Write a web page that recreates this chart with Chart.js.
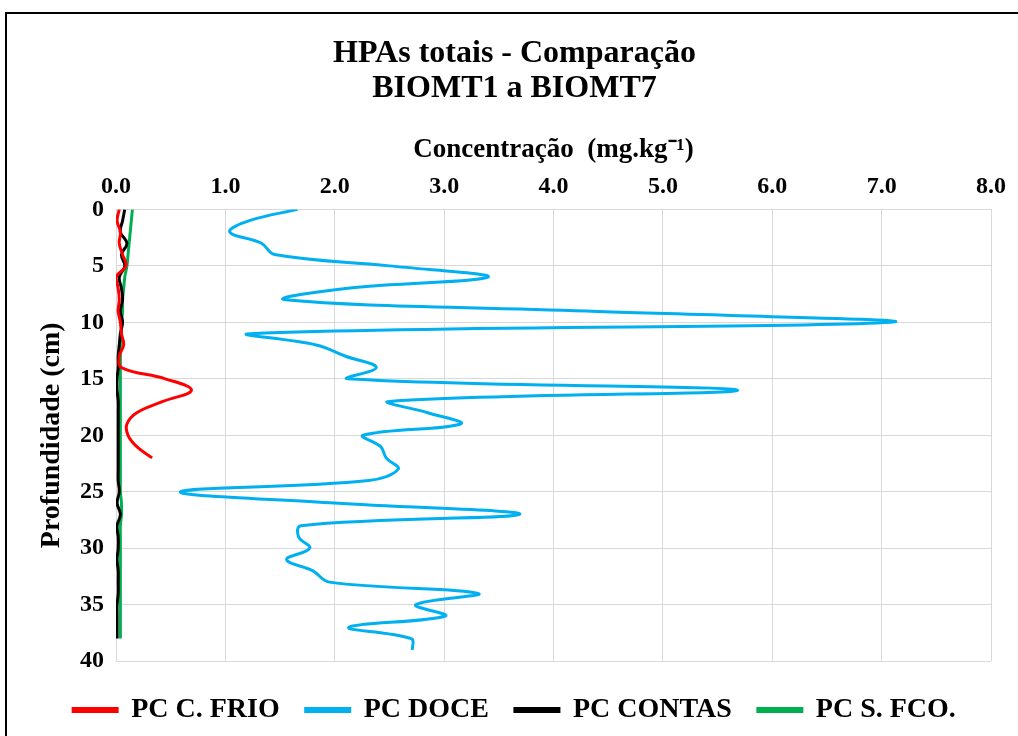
<!DOCTYPE html>
<html lang="pt">
<head>
  <meta charset="UTF-8">
  <title>HPAs totais - Comparação</title>
  <script src="https://cdn.jsdelivr.net/npm/chart.js"></script>
  <style>
    html, body { margin: 0; padding: 0; background: white; }
    #frame { position: absolute; left: 5px; top: 12px; width: 1100px; height: 800px; border: 2px solid black; }
    #wrap { position: absolute; left: 0; top: 0; width: 1018px; height: 736px; }
  </style>
</head>
<body>
<div id="frame"></div>
<div id="wrap"><canvas id="chart" width="1018" height="736"></canvas></div>

<script>
  // profundidade (cm) e concentração (mg/kg)
  const depthDoce = [0,1,2,3,4,5,6,7,8,9,10,11,12,13,14,15,16,17,18,19,20,21,22,23,24,25,26,27,28,29,30,31,32,33,34,35,36,37,38,39];
  const doce = [1.66,1.22,1.04,1.33,1.45,2.50,3.40,2.10,1.55,4.30,7.08,1.23,1.83,2.10,2.38,2.12,5.68,2.50,2.85,3.15,2.26,2.42,2.47,2.58,2.31,0.59,2.00,3.69,1.69,1.67,1.77,1.56,1.80,1.95,3.31,2.74,3.01,2.13,2.70,2.71];

  const depthFrio = [0,1,2,3,4,5,6,7,8,9,10,11,12,13,14,15,16,17,18,19,20,21,22];
  const frio = [0.03,0.01,0.04,0.03,0.06,0.09,0.00,0.02,0.03,0.02,0.04,0.05,0.07,0.03,0.05,0.45,0.69,0.43,0.19,0.10,0.11,0.19,0.33];

  const depthContas = [0,1,2,3,4,5,6,7,8,9,10,11,12,13,14,15,16,17,18,19,20,21,22,23,24,25,26,27,28,29,30,31,32,33,34,35,36,37,38];
  const contas = [0.08,0.06,0.04,0.10,0.05,0.08,0.03,0.05,0.06,0.04,0.06,0.04,0.03,0.02,0.02,0.01,0.01,0.02,0.02,0.02,0.02,0.02,0.02,0.02,0.02,0.03,0.01,0.04,0.01,0.02,0.02,0.01,0.02,0.02,0.02,0.01,0.01,0.01,0.01];

  const depthSfco = [0,1,2,3,4,5,6,7,8,9,10,11,12,13,14,15,16,17,18,19,20,21,22,23,24,25,26,27,28,29,30,31,32,33,34,35,36,37,38];
  const sfco = [0.15,0.14,0.13,0.12,0.11,0.10,0.08,0.07,0.06,0.06,0.05,0.05,0.04,0.04,0.04,0.04,0.04,0.04,0.04,0.04,0.04,0.04,0.04,0.04,0.04,0.04,0.05,0.05,0.04,0.04,0.04,0.04,0.04,0.04,0.04,0.04,0.04,0.04,0.04];

  const xTicks = [0,1,2,3,4,5,6,7,8];
  const yTicks = [0,5,10,15,20,25,30,35,40];

  function pts(depths, vals) {
    return vals.map((v, i) => ({ x: v, y: depths[i] }));
  }

  function serie(label, color, depths, vals) {
    return {
      label: label,
      data: pts(depths, vals),
      borderColor: color,
      backgroundColor: color,
      borderWidth: 3,
      showLine: true,
      pointRadius: 0,
      tension: 0.4
    };
  }

  const serif = "'Liberation Serif', 'Times New Roman', serif";
  const grid = "#d9d9d9";

  new Chart(document.getElementById("chart"), {
    type: "scatter",
    data: {
      datasets: [
        serie("PC C. FRIO", "#ff0000", depthFrio, frio),
        serie("PC DOCE", "#00b0f0", depthDoce, doce),
        serie("PC CONTAS", "#000000", depthContas, contas),
        serie("PC S. FCO.", "#00b050", depthSfco, sfco)
      ]
    },
    options: {
      responsive: false,
      animation: false,
      layout: { padding: { left: 38, right: 27, top: 36, bottom: 2 } },
      plugins: {
        tooltip: { enabled: false },
        title: {
          display: true,
          text: ["HPAs totais - Comparação", "BIOMT1 a BIOMT7"],
          color: "#000",
          font: { family: serif, size: 32, weight: "bold", lineHeight: 1.1 },
          padding: { top: 0, bottom: 30 }
        },
        legend: {
          position: "bottom",
          // titulo vazio so para afastar a legenda do grafico
          title: { display: true, text: "", font: { size: 4 }, padding: { top: 4, bottom: 0 } },
          labels: {
            color: "#000",
            font: { family: serif, size: 28, weight: "bold" },
            boxWidth: 44,
            boxHeight: 3,
            padding: 26
          }
        }
      },
      scales: {
        x: {
          type: "linear",
          position: "top",
          min: 0,
          max: 8,
          afterBuildTicks: axis => { axis.ticks = xTicks.map(v => ({ value: v })); },
          ticks: {
            color: "#000",
            font: { family: serif, size: 24, weight: "bold", lineHeight: 1 },
            padding: 11,
            callback: v => v.toFixed(1)
          },
          grid: { color: grid, lineWidth: 1, drawTicks: false },
          border: { color: grid },
          title: {
            display: true,
            text: "Concentração  (mg.kg⁻¹)",
            color: "#000",
            font: { family: serif, size: 27, weight: "bold", lineHeight: 1 },
            padding: { top: 0, bottom: 0 }
          }
        },
        y: {
          type: "linear",
          reverse: true,
          min: 0,
          max: 40,
          afterBuildTicks: axis => { axis.ticks = yTicks.map(v => ({ value: v })); },
          ticks: {
            color: "#000",
            font: { family: serif, size: 24, weight: "bold" },
            padding: 12
          },
          grid: { color: grid, lineWidth: 1, drawTicks: false },
          border: { color: grid },
          title: {
            display: true,
            text: "Profundidade (cm)",
            color: "#000",
            font: { family: serif, size: 28, weight: "bold", lineHeight: 1 },
            padding: { top: 0, bottom: 2 }
          }
        }
      }
    }
  });
</script>
</body>
</html>
